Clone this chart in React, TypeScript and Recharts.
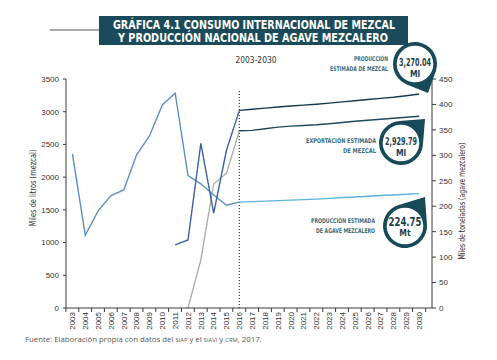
import React from 'react';
import { ComposedChart, Line, XAxis, YAxis, ReferenceLine } from 'recharts';

const years = [2003, 2004, 2005, 2006, 2007, 2008, 2009, 2010, 2011, 2012, 2013, 2014, 2015, 2016,
  2017, 2018, 2019, 2020, 2021, 2022, 2023, 2024, 2025, 2026, 2027, 2028, 2029, 2030];

// Agave mezcalero production (miles de toneladas, right axis)
const agaveHist = [303, 143, 191, 221, 232, 301, 338, 399, 422, 260, 244, 222, 202, 208,
  null, null, null, null, null, null, null, null, null, null, null, null, null, null];
const agaveProj = [null, null, null, null, null, null, null, null, null, null, null, null, null, 208,
  209, 210, 211, 212, 213, 214, 215.5, 217, 218, 219.5, 221, 222, 223.5, 224.75];

// Mezcal production (miles de litros, left axis)
const mezcalHist = [null, null, null, null, null, null, null, null, 965, 1040, 2515, 1450, 2415, 3020,
  null, null, null, null, null, null, null, null, null, null, null, null, null, null];
const mezcalProj = [null, null, null, null, null, null, null, null, null, null, null, null, null, 3020,
  3038, 3055, 3072, 3088, 3100, 3115, 3132, 3150, 3168, 3186, 3204, 3222, 3245, 3270.04];

// Mezcal export (miles de litros, left axis)
const exportHist = [null, null, null, null, null, null, null, null, null, 0, 735, 1895, 2060, 2710,
  null, null, null, null, null, null, null, null, null, null, null, null, null, null];
const exportProj = [null, null, null, null, null, null, null, null, null, null, null, null, null, 2710,
  2715, 2740, 2765, 2780, 2790, 2800, 2815, 2835, 2855, 2870, 2885, 2900, 2915, 2929.79];

const leftTicks = [0, 500, 1000, 1500, 2000, 2500, 3000, 3500];
const rightTicks = [0, 50, 100, 150, 200, 250, 300, 350, 400, 450];
const projectionStart = 2016;

const data = years.map((year, i) => ({
  year,
  agaveHist: agaveHist[i],
  agaveProj: agaveProj[i],
  mezcalHist: mezcalHist[i],
  mezcalProj: mezcalProj[i],
  exportHist: exportHist[i],
  exportProj: exportProj[i],
}));

const W = 497;
const H = 360;
const PLOT_LEFT = 66;
const PLOT_RIGHT = 432;
const PLOT_BOTTOM = 308;
const HALF_BAND = (PLOT_RIGHT - PLOT_LEFT) / years.length / 2;
const AXIS = '#3a3a3a';
const TEAL = '#174a59';
const TICK_FONT = '"Liberation Sans", Arial, sans-serif';
const NARROW = '"Liberation Sans Narrow", "DejaVu Sans Condensed", "Liberation Sans", Arial, sans-serif';

function XTick(props: any) {
  const { x, payload, index } = props;
  const isLast = index === years.length - 1;
  return (
    <g>
      <line x1={x - HALF_BAND} y1={PLOT_BOTTOM} x2={x - HALF_BAND} y2={PLOT_BOTTOM + 4} stroke={AXIS} strokeWidth={1} />
      {isLast && (
        <line x1={x + HALF_BAND} y1={PLOT_BOTTOM} x2={x + HALF_BAND} y2={PLOT_BOTTOM + 4} stroke={AXIS} strokeWidth={1} />
      )}
      <text
        x={0}
        y={0}
        transform={`translate(${x},${PLOT_BOTTOM + 4}) rotate(-90)`}
        textAnchor="end"
        dy="0.35em"
        fontSize={8}
        fontFamily={TICK_FONT}
        fill="#333"
      >
        {payload.value}
      </text>
    </g>
  );
}

function pinPath(cx: number, cy: number, r: number, tx: number, ty: number) {
  const dx = tx - cx;
  const dy = ty - cy;
  const d = Math.hypot(dx, dy);
  const th = Math.atan2(dy, dx);
  const a = Math.acos(r / d);
  const p1x = cx + r * Math.cos(th + a);
  const p1y = cy + r * Math.sin(th + a);
  const p2x = cx + r * Math.cos(th - a);
  const p2y = cy + r * Math.sin(th - a);
  return `M ${p1x} ${p1y} L ${tx} ${ty} L ${p2x} ${p2y} A ${r} ${r} 0 1 0 ${p1x} ${p1y} Z`;
}

function Callout(props: { cx: number; cy: number; tx: number; ty: number; value: string; unit: string; big?: boolean }) {
  const { cx, cy, tx, ty, value, unit, big } = props;
  return (
    <g>
      <path d={pinPath(cx, cy, 22, tx, ty)} fill={TEAL} />
      <circle cx={cx} cy={cy} r={18.3} fill="#fff" />
      <text
        x={cx}
        y={big ? cy - 5 : cy - 2}
        textAnchor="middle"
        dominantBaseline="central"
        fontSize={big ? 13 : 10}
        fontWeight="bold"
        fontFamily={NARROW}
        fill="#1e3f4c"
        textLength={big ? 33 : 32}
        lengthAdjust="spacingAndGlyphs"
      >
        {value}
      </text>
      <text
        x={cx}
        y={big ? cy + 7 : cy + 9.5}
        textAnchor="middle"
        dominantBaseline="central"
        fontSize={8.5}
        fontWeight="bold"
        fontFamily={NARROW}
        fill="#1e3f4c"
      >
        {unit}
      </text>
    </g>
  );
}

function Label(props: { x: number; y: number; lines: string[]; widths: number[] }) {
  const { x, y, lines, widths } = props;
  return (
    <g>
      {lines.map((l, i) => (
        <text
          key={i}
          x={x}
          y={y + i * 10}
          textAnchor="end"
          fontSize={6.5}
          fontFamily={NARROW}
          fill="#3d6c7d"
          fontWeight="bold"
          textLength={widths[i]}
          lengthAdjust="spacingAndGlyphs"
        >
          {l}
        </text>
      ))}
    </g>
  );
}

export default function App() {
  return (
    <div style={{ position: 'absolute', left: 0, top: 0, width: W, height: H, background: '#fff' }}>
      <ComposedChart
        width={W}
        height={H}
        data={data}
        margin={{ top: 79, right: 25, bottom: 22, left: 26 }}
      >
        <XAxis
          dataKey="year"
          type="number"
          domain={[years[0] - 0.5, years[years.length - 1] + 0.5]}
          ticks={years}
          interval={0}
          tickLine={false}
          tick={<XTick />}
          axisLine={{ stroke: AXIS, strokeWidth: 1 }}
          height={30}
          allowDecimals={false}
        />
        <YAxis
          yAxisId="left"
          domain={[0, 3500]}
          ticks={leftTicks}
          width={40}
          tickSize={3}
          tickMargin={4}
          tickLine={{ stroke: AXIS }}
          axisLine={{ stroke: AXIS, strokeWidth: 1 }}
          tick={{ fontSize: 8, fontFamily: TICK_FONT, fill: '#333' }}
          interval={0}
        />
        <YAxis
          yAxisId="right"
          orientation="right"
          domain={[0, 450]}
          ticks={rightTicks}
          width={40}
          tickSize={4}
          tickMargin={3}
          tickLine={{ stroke: AXIS }}
          axisLine={{ stroke: AXIS, strokeWidth: 1 }}
          tick={{ fontSize: 8, fontFamily: TICK_FONT, fill: '#333' }}
          interval={0}
        />
        <ReferenceLine
          yAxisId="left"
          segment={[{ x: projectionStart, y: 0 }, { x: projectionStart, y: 3320 }]}
          stroke={TEAL}
          strokeWidth={1.3}
          strokeDasharray="1 2"
        />
        <Line yAxisId="left" dataKey="exportHist" stroke="#a9a9a9" strokeWidth={1.3} dot={false} isAnimationActive={false} connectNulls={false} />
        <Line yAxisId="right" dataKey="agaveHist" stroke="#5c8fc8" strokeWidth={1.4} dot={false} isAnimationActive={false} connectNulls={false} />
        <Line yAxisId="left" dataKey="mezcalHist" stroke="#3b62a6" strokeWidth={1.4} dot={false} isAnimationActive={false} connectNulls={false} />
        <Line yAxisId="right" dataKey="agaveProj" stroke="#5cb3db" strokeWidth={1.4} dot={false} isAnimationActive={false} connectNulls={false} />
        <Line yAxisId="left" dataKey="exportProj" stroke="#1c4a5b" strokeWidth={1.4} dot={false} isAnimationActive={false} connectNulls={false} />
        <Line yAxisId="left" dataKey="mezcalProj" stroke="#153a4f" strokeWidth={1.4} dot={false} isAnimationActive={false} connectNulls={false} />
      </ComposedChart>
      <svg width={W} height={H} style={{ position: 'absolute', left: 0, top: 0, pointerEvents: 'none' }}>
        <line x1={50} y1={30} x2={100} y2={30} stroke="#555" strokeWidth={1} />
        <rect x={99} y={16} width={309} height={29} fill="#1b4b5a" />
        <text x={254} y={29} textAnchor="middle" fontSize={11.5} fontWeight="bold" fontFamily={NARROW} fill="#fff" textLength={282} lengthAdjust="spacingAndGlyphs">
          GRÁFICA 4.1 CONSUMO INTERNACIONAL DE MEZCAL
        </text>
        <text x={253} y={42} textAnchor="middle" fontSize={11.5} fontWeight="bold" fontFamily={NARROW} fill="#fff" textLength={270} lengthAdjust="spacingAndGlyphs">
          Y PRODUCCIÓN NACIONAL DE AGAVE MEZCALERO
        </text>
        <text x={256} y={63} textAnchor="middle" fontSize={9.5} fontFamily={NARROW} fill="#333" textLength={41} lengthAdjust="spacingAndGlyphs">
          2003-2030
        </text>

        <text x={0} y={0} transform="translate(36,188) rotate(-90)" textAnchor="middle" fontSize={8.5} fontFamily={NARROW} fill="#333" textLength={77} lengthAdjust="spacingAndGlyphs">
          Miles de litros (mezcal)
        </text>
        <text x={0} y={0} transform="translate(465,201) rotate(-90)" textAnchor="middle" fontSize={8.5} fontFamily={NARROW} fill="#333" textLength={117} lengthAdjust="spacingAndGlyphs">
          Miles de toneladas (agave mezcalero)
        </text>

        <Label x={388} y={61} lines={['PRODUCCIÓN', 'ESTIMADA DE MEZCAL']} widths={[34, 58]} />
        <Label x={376} y={142.5} lines={['EXPORTACIÓN ESTIMADA', 'DE MEZCAL']} widths={[70, 33]} />
        <Label x={375} y={223} lines={['PRODUCCIÓN ESTIMADA', 'DE AGAVE MEZCALERO']} widths={[64, 59]} />

        <Callout cx={415} cy={64} tx={428} ty={93} value="3,270.04" unit="Ml" />
        <Callout cx={401} cy={143} tx={425} ty={119} value="2,929.79" unit="Ml" />
        <Callout cx={405} cy={226} tx={425} ty={197} value="224.75" unit="Mt" big />

        <text x={25} y={342} fontSize={7.8} fontFamily='"Open Sans", sans-serif' fill="#555">
          Fuente: Elaboración propia con datos del <tspan fontSize={5.8}>SIAP</tspan> y el <tspan fontSize={5.8}>SIAVI</tspan> y <tspan fontSize={5.8}>CRM</tspan>, 2017.
        </text>
      </svg>
    </div>
  );
}
